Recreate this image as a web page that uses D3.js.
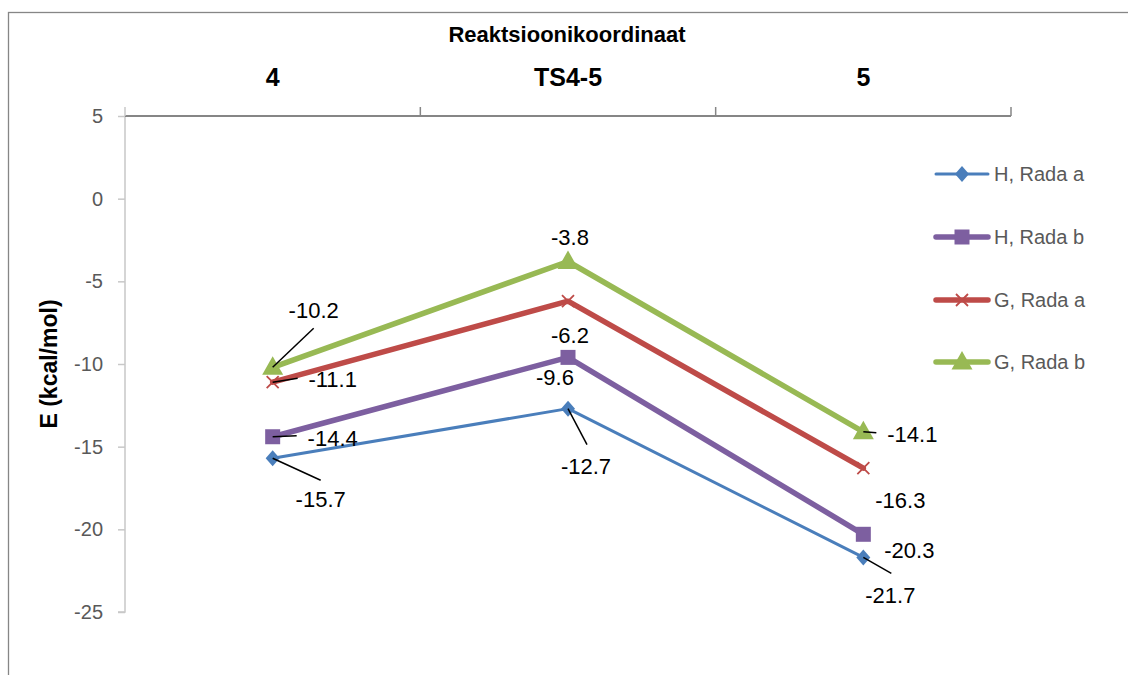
<!DOCTYPE html>
<html>
<head>
<meta charset="utf-8">
<script src="https://cdn.jsdelivr.net/npm/d3@7"></script>
<style>
  body { margin: 0; background: #fff; }
  svg { display: block; }
  text { font-family: "Liberation Sans", Arial, sans-serif; }
</style>
</head>
<body>
<div id="chart"></div>
<script>
// Data
const categories = ["4", "TS4-5", "5"];
const seriesNames = ["H, Rada a", "H, Rada b", "G, Rada a", "G, Rada b"];
const hRadaA = [-15.7, -12.7, -21.7];
const hRadaB = [-14.4, -9.6, -20.3];
const gRadaA = [-11.1, -6.2, -16.3];
const gRadaB = [-10.2, -3.8, -14.1];
const yTicks = [5, 0, -5, -10, -15, -20, -25];

// Look of each series
const colors = ["#4a7ebb", "#7d5fa0", "#be4b48", "#98b954"];
const lineWidths = [3, 5.5, 5.5, 5.5];
const markers = ["diamond", "square", "cross", "triangle"];

// Hand placed labels, like manual positions in the spreadsheet: [dx, dy, leaderDx, leaderDy]
const labelOffsets = [
    [[48, 41, 48, 22], [18, 57, 19, 36], [27, 38, 28, 16]],
    [[60, 1, 24, -1], [-13, 20, null, null], [46, 16, null, null]],
    [[60, -3, 25, -4], [2, 34, null, null], [37, 32, null, null]],
    [[41, -57, 41, -39], [2, -24, null, null], [49, 2, 13, 1]]
];

const series = [hRadaA, hRadaB, gRadaA, gRadaB];

const width = 1128, height = 675;
const svg = d3.select("#chart").append("svg")
    .attr("width", width)
    .attr("height", height);

// Outer chart border
svg.append("rect")
    .attr("x", 8.5).attr("y", 12.5)
    .attr("width", 1300).attr("height", 900)
    .attr("fill", "none")
    .attr("stroke", "#868686")
    .attr("stroke-width", 1.3);

const x = d3.scaleBand().domain(categories).range([125, 1011]);
const y = d3.scaleLinear().domain([-25, 5]).range([612, 116]);
const cx = c => x(c) + x.bandwidth() / 2;

// Y axis
const yAxis = svg.append("g")
    .attr("transform", "translate(125,0)")
    .call(d3.axisLeft(y).tickValues(yTicks).tickSize(7).tickPadding(15).tickFormat(d => String(d)));
yAxis.select(".domain").attr("stroke", "#c8c8c8").attr("stroke-width", 1.5)
    .attr("d", "M-7,612H0V116");
yAxis.selectAll(".tick line").attr("stroke", "#c8c8c8").attr("stroke-width", 1.5);
yAxis.selectAll(".tick text")
    .attr("fill", "#595959")
    .style("font-size", "20px")
    .style("font-family", "'Liberation Sans', Arial, sans-serif");

// X axis (at the top, at y = 5)
const xTickPos = [125, ...categories.map(c => x(c) + x.bandwidth())];
svg.append("line")
    .attr("x1", 125).attr("x2", 1011)
    .attr("y1", y(5)).attr("y2", y(5))
    .attr("stroke", "#868686").attr("stroke-width", 2);
svg.selectAll(".xtick")
    .data(xTickPos)
    .enter().append("line")
    .attr("class", "xtick")
    .attr("x1", d => d).attr("x2", d => d)
    .attr("y1", y(5) - 9).attr("y2", y(5))
    .attr("stroke", (d, i) => i === 0 ? "#c8c8c8" : "#868686")
    .attr("stroke-width", 1.5);

svg.selectAll(".xlabel")
    .data(categories)
    .enter().append("text")
    .attr("class", "xlabel")
    .attr("x", d => cx(d))
    .attr("y", 86)
    .attr("text-anchor", "middle")
    .style("font-size", "25px")
    .style("font-weight", "bold")
    .text(d => d);

// Axis titles
svg.append("text")
    .attr("x", 567).attr("y", 42)
    .attr("text-anchor", "middle")
    .style("font-size", "22px")
    .style("font-weight", "bold")
    .text("Reaktsioonikoordinaat");

svg.append("text")
    .attr("transform", "translate(57,364) rotate(-90)")
    .attr("text-anchor", "middle")
    .style("font-size", "23px")
    .style("font-weight", "bold")
    .text("E (kcal/mol)");

// Marker shapes
function markerPath(type) {
    if (type === "diamond") return "M0,-8L7,0L0,8L-7,0Z";
    if (type === "square") return "M-7.5,-7.5H7.5V7.5H-7.5Z";
    if (type === "triangle") return "M0,-11L10.5,7.5H-10.5Z";
    return "M-6,-6L6,6M-6,6L6,-6";
}

function drawMarker(g, type, color) {
    const p = g.append("path").attr("d", markerPath(type));
    if (type === "cross") {
        p.attr("fill", "none").attr("stroke", color).attr("stroke-width", 1.8);
    } else {
        p.attr("fill", color);
    }
}

const line = d3.line()
    .x((d, i) => cx(categories[i]))
    .y(d => y(d));

series.forEach((vals, s) => {
    svg.append("path")
        .datum(vals)
        .attr("d", line)
        .attr("fill", "none")
        .attr("stroke", colors[s])
        .attr("stroke-width", lineWidths[s])
        .attr("stroke-linejoin", "round")
        .attr("stroke-linecap", "round");
});

series.forEach((vals, s) => {
    vals.forEach((v, i) => {
        const g = svg.append("g")
            .attr("transform", "translate(" + cx(categories[i]) + "," + y(v) + ")");
        drawMarker(g, markers[s], colors[s]);
    });
});

// Data labels and leader lines
series.forEach((vals, s) => {
    vals.forEach((v, i) => {
        const px = cx(categories[i]), py = y(v);
        const off = labelOffsets[s][i];
        if (off[2] !== null) {
            svg.append("line")
                .attr("x1", px + off[2]).attr("y1", py + off[3])
                .attr("x2", px).attr("y2", py)
                .attr("stroke", "#000").attr("stroke-width", 1.5);
        }
        svg.append("text")
            .attr("x", px + off[0])
            .attr("y", py + off[1])
            .attr("dy", "0.36em")
            .attr("text-anchor", "middle")
            .style("font-size", "22px")
            .text(v.toFixed(1));
    });
});

// Legend
const legend = svg.append("g");
const legendY = [174, 237, 300, 362];
seriesNames.forEach((name, s) => {
    const g = legend.append("g").attr("transform", "translate(0," + legendY[s] + ")");
    g.append("line")
        .attr("x1", 936).attr("x2", 988)
        .attr("stroke", colors[s])
        .attr("stroke-width", lineWidths[s])
        .attr("stroke-linecap", "round");
    const m = g.append("g").attr("transform", "translate(962,0)");
    drawMarker(m, markers[s], colors[s]);
    g.append("text")
        .attr("x", 994).attr("y", 0)
        .attr("dy", "0.35em")
        .attr("fill", "#595959")
        .style("font-size", "20px")
        .text(name);
});
</script>
</body>
</html>
